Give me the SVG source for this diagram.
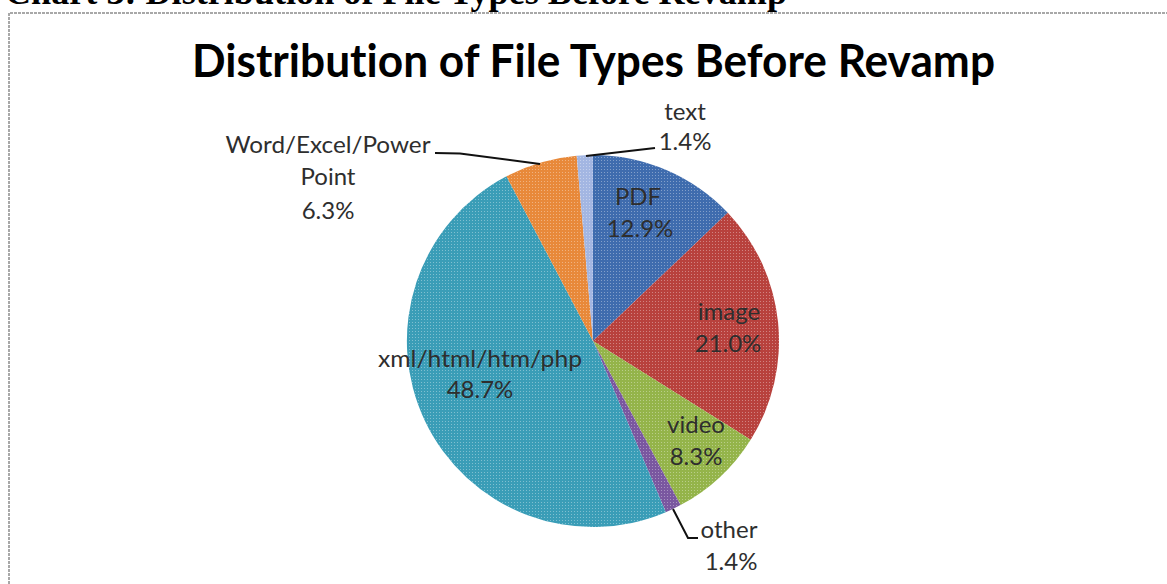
<svg xmlns="http://www.w3.org/2000/svg" width="1167" height="584" viewBox="0 0 1167 584">
<defs>
<pattern id="dots" width="3" height="3" patternUnits="userSpaceOnUse">
<rect x="1" y="1" width="1" height="1" fill="#ffffff" fill-opacity="0.35"/>
</pattern>
<style>
.hdr{font-family:"Liberation Serif","Times New Roman",serif;font-weight:bold;font-size:36px;fill:#000}
.ttl{font-family:Lato,"Liberation Sans",sans-serif;font-weight:bold;font-size:46px;fill:#000;font-variant-ligatures:none}
.lbl{font-family:Lato,"Liberation Sans",sans-serif;font-size:24px;fill:#2e2e2e;text-anchor:middle;font-variant-ligatures:none}
.lead{fill:none;stroke:#111;stroke-width:2}
.border{stroke:#a8a8a8;stroke-width:2;stroke-dasharray:3 1;fill:none}
</style>
</defs>
<rect width="1167" height="584" fill="#fff"/>
<text class="hdr" x="5" y="4" textLength="782" lengthAdjust="spacingAndGlyphs">Chart 3: Distribution of File Types Before Revamp</text>
<path class="border" d="M9,584 L9,13 L1167,13"/>
<text class="ttl" x="192" y="77" textLength="803" lengthAdjust="spacingAndGlyphs">Distribution of File Types Before Revamp</text>
<g id="pie">
<g id="slice-pdf"><path d="M593,341 L593,155 A186,186 0 0,1 727.76,212.79 Z" fill="#3f6cae"/></g>
<g id="slice-image"><path d="M593,341 L727.76,212.79 A186,186 0 0,1 750.67,439.67 Z" fill="#b8413d"/></g>
<g id="slice-video"><path d="M593,341 L750.67,439.67 A186,186 0 0,1 680.55,505.11 Z" fill="#94b44a"/></g>
<g id="slice-other"><path d="M593,341 L680.55,505.11 A186,186 0 0,1 665.80,512.16 Z" fill="#7a57a0"/></g>
<g id="slice-xml"><path d="M593,341 L665.80,512.16 A186,186 0 0,1 506.49,176.33 Z" fill="#3a9db7"/></g>
<g id="slice-word"><path d="M593,341 L506.49,176.33 A186,186 0 0,1 576.66,155.72 Z" fill="#e8893a"/></g>
<g id="slice-text"><path d="M593,341 L576.66,155.72 A186,186 0 0,1 593,155 Z" fill="#a3b6e2"/></g>
<circle cx="593" cy="341" r="186" fill="url(#dots)"/>
</g>
<g id="connectors">
<polyline class="lead" points="435,153 460,153.5 540,164"/>
<polyline class="lead" points="586,156 655,148"/>
<polyline class="lead" points="673,509 688,538 698,538"/>
</g>
<g id="label-text"><text class="lbl" x="685" y="120">text</text><text class="lbl" x="685" y="150">1.4%</text></g>
<g id="label-word"><text class="lbl" x="328" y="153" textLength="205" lengthAdjust="spacingAndGlyphs">Word/Excel/Power</text><text class="lbl" x="328" y="185">Point</text><text class="lbl" x="328" y="219">6.3%</text></g>
<g id="label-pdf"><text class="lbl" x="638" y="205">PDF</text><text class="lbl" x="640" y="237">12.9%</text></g>
<g id="label-image"><text class="lbl" x="729" y="320">image</text><text class="lbl" x="728" y="352">21.0%</text></g>
<g id="label-xml"><text class="lbl" x="480" y="367" textLength="204" lengthAdjust="spacingAndGlyphs">xml/html/htm/php</text><text class="lbl" x="480" y="398">48.7%</text></g>
<g id="label-video"><text class="lbl" x="696" y="433">video</text><text class="lbl" x="696" y="465">8.3%</text></g>
<g id="label-other"><text class="lbl" x="729" y="538">other</text><text class="lbl" x="731" y="570">1.4%</text></g>
</svg>
